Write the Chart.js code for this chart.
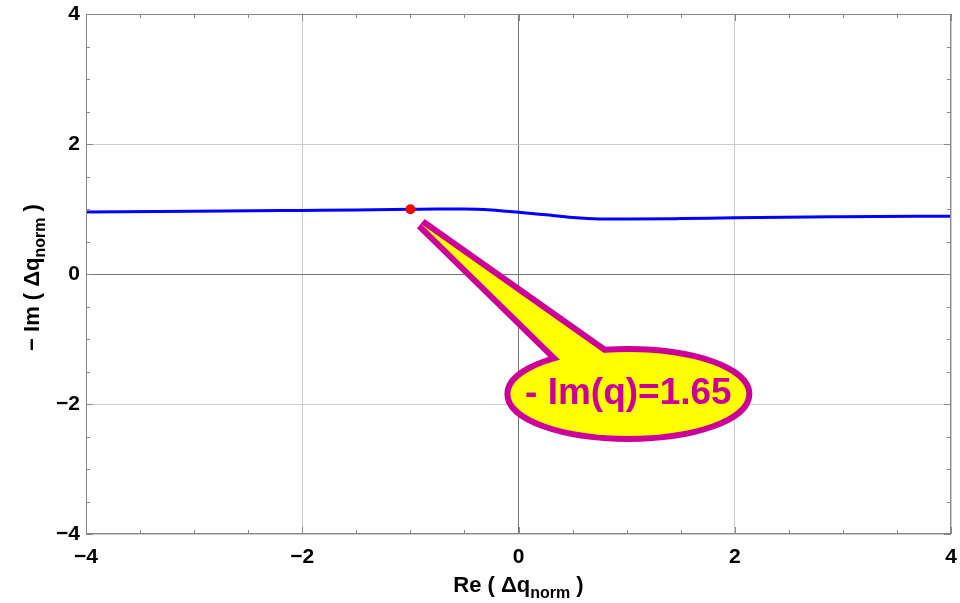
<!DOCTYPE html>
<html>
<head>
<meta charset="utf-8">
<script src="https://cdn.jsdelivr.net/npm/chart.js@4.4.1/dist/chart.umd.min.js"></script>
<style>
  html, body { margin: 0; padding: 0; background: #ffffff; }
  #wrap { width: 960px; height: 603px; position: relative; }
</style>
</head>
<body>
<div id="wrap"><canvas id="c" width="960" height="603"></canvas></div>
<script>
// ---- data ----
const reValues = [-4, -3, -2, -1.5, -1, -0.75, -0.5, -0.25, 0, 0.25, 0.5, 0.75, 1, 1.5, 2, 3, 4];
const imValues = [0.955, 0.965, 0.978, 0.985, 0.995, 1.0, 1.0, 0.985, 0.95, 0.91, 0.87, 0.848, 0.845, 0.852, 0.865, 0.88, 0.89];
const markerPoint = [{ x: -1, y: 0.995 }];
const majorTicks = [-4, -2, 0, 2, 4];
const calloutText = "- Im(q)=1.65";
// callout geometry in data units
const calloutTip = [-0.9, 0.77];
const calloutBaseLeft = [0.42, -1.38];
const calloutBaseRight = [0.83, -1.26];
const calloutCenter = [1.016, -1.846];

const curve = reValues.map((x, i) => ({ x, y: imValues[i] }));

const FONT = '"Liberation Sans", Arial, sans-serif';
const MAG = '#cc0099';

function fmt(v) {
  if (!majorTicks.includes(v)) return '';
  return v < 0 ? '\u2212' + Math.abs(v) : String(v);
}

function drawRich(ctx, segs) {
  let w = 0;
  segs.forEach(s => { ctx.font = 'bold ' + s.size + 'px ' + FONT; s.w = ctx.measureText(s.t).width; w += s.w; });
  let x = -w / 2;
  segs.forEach(s => {
    ctx.font = 'bold ' + s.size + 'px ' + FONT;
    ctx.fillText(s.t, x, s.dy || 0);
    x += s.w;
  });
}

const framePlugin = {
  id: 'frame',
  afterDraw(chart) {
    const { ctx, chartArea: a, scales } = chart;
    ctx.save();
    ctx.strokeStyle = '#888888';
    ctx.lineWidth = 1;
    ctx.strokeRect(a.left + 0.5, a.top + 0.5, a.right - a.left - 1, a.bottom - a.top - 1);
    ctx.beginPath();
    for (let v = -4; v <= 4.001; v += 0.5) {
      const major = majorTicks.includes(v);
      const L = major ? 7 : 4;
      const px = Math.round(scales.x.getPixelForValue(v)) + 0.5;
      ctx.moveTo(px, a.bottom); ctx.lineTo(px, a.bottom - L);
      ctx.moveTo(px, a.top); ctx.lineTo(px, a.top + L);
      const py = Math.round(scales.y.getPixelForValue(v)) + 0.5;
      ctx.moveTo(a.left, py); ctx.lineTo(a.left + L, py);
      ctx.moveTo(a.right, py); ctx.lineTo(a.right - L, py);
    }
    ctx.stroke();
    ctx.fillStyle = '#000';
    ctx.textBaseline = 'alphabetic';
    ctx.textAlign = 'left';
    ctx.save();
    ctx.translate((a.left + a.right) / 2, 592);
    drawRich(ctx, [{ t: 'Re ( \u0394q', size: 22 }, { t: 'norm', size: 16, dy: 6 }, { t: ' )', size: 22 }]);
    ctx.restore();
    ctx.save();
    ctx.translate(39, 277.5);
    ctx.rotate(-Math.PI / 2);
    drawRich(ctx, [{ t: '\u2212 Im ( \u0394q', size: 22 }, { t: 'norm', size: 16, dy: 6 }, { t: ' )', size: 22 }]);
    ctx.restore();
    ctx.restore();
  }
};

const calloutPlugin = {
  id: 'callout',
  afterDatasetsDraw(chart) {
    const { ctx, scales } = chart;
    const P = p => [scales.x.getPixelForValue(p[0]), scales.y.getPixelForValue(p[1])];
    const tip = P(calloutTip), bl = P(calloutBaseLeft), br = P(calloutBaseRight), c = P(calloutCenter);
    const rx = 118, ry = 42;
    ctx.save();
    const tri = () => { ctx.beginPath(); ctx.moveTo(tip[0], tip[1]); ctx.lineTo(bl[0], bl[1]); ctx.lineTo(br[0], br[1]); ctx.closePath(); };
    const ell = () => { ctx.beginPath(); ctx.ellipse(c[0], c[1], rx, ry, 0, 0, Math.PI * 2); };
    ctx.strokeStyle = MAG;
    ctx.lineWidth = 12;
    ctx.lineJoin = 'bevel';
    tri(); ctx.stroke();
    ell(); ctx.stroke();
    ctx.fillStyle = '#ffff00';
    tri(); ctx.fill();
    ell(); ctx.fill();
    ctx.fillStyle = MAG;
    ctx.font = 'bold 37px ' + FONT;
    ctx.textAlign = 'center';
    ctx.textBaseline = 'alphabetic';
    ctx.fillText(calloutText, c[0], c[1] + 10);
    ctx.restore();
  }
};

const gridColor = ctx => {
  const v = ctx.tick && ctx.tick.value;
  if (v === 0) return '#777777';
  if (majorTicks.includes(v)) return '#cccccc';
  return 'rgba(0,0,0,0)';
};

new Chart(document.getElementById('c'), {
  type: 'scatter',
  data: {
    datasets: [
      {
        data: curve, showLine: true, borderColor: '#0000ff', borderWidth: 3,
        pointRadius: 0, cubicInterpolationMode: 'monotone', order: 2
      },
      {
        data: markerPoint, showLine: false, pointRadius: 5, pointBackgroundColor: '#ff0000',
        pointBorderWidth: 0, borderColor: '#ff0000', order: 1
      }
    ]
  },
  options: {
    responsive: false,
    animation: false,
    devicePixelRatio: 1,
    layout: { padding: { left: 0, right: 9, top: 14, bottom: 0 } },
    plugins: { legend: { display: false }, tooltip: { enabled: false } },
    scales: {
      x: {
        type: 'linear', min: -4, max: 4,
        border: { display: false },
        grid: { color: gridColor, drawTicks: false, lineWidth: 1 },
        ticks: { stepSize: 0.5, autoSkip: false, maxRotation: 0, color: '#000', padding: 11,
                 font: { family: FONT, size: 21, weight: 'bold' }, callback: v => fmt(v) },
        afterFit: s => { s.height = 69; s.paddingLeft = 0; s.paddingRight = 0; }
      },
      y: {
        type: 'linear', min: -4, max: 4,
        border: { display: false },
        grid: { color: gridColor, drawTicks: false, lineWidth: 1 },
        ticks: { stepSize: 0.5, autoSkip: false, color: '#000', padding: 6,
                 font: { family: FONT, size: 21, weight: 'bold' }, callback: v => fmt(v) },
        afterFit: s => { s.width = 86; s.paddingTop = 0; s.paddingBottom = 0; }
      }
    }
  },
  plugins: [framePlugin, calloutPlugin]
});
</script>
</body>
</html>
